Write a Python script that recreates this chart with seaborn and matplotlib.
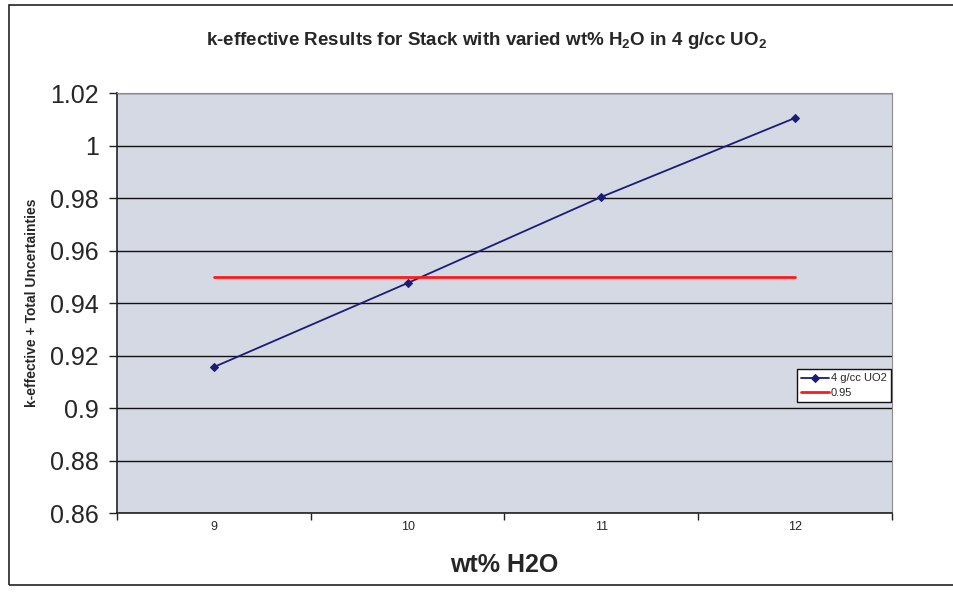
import matplotlib
matplotlib.use("Agg")
import matplotlib.pyplot as plt
import seaborn as sns
import pandas as pd
from matplotlib.patches import Rectangle
from matplotlib.ticker import FixedLocator

# Data
wt_pct = ["9", "10", "11", "12"]
k_eff = [0.9156, 0.9476, 0.9804, 1.0105]
limit = [0.95, 0.95, 0.95, 0.95]
y_ticks = [0.86, 0.88, 0.90, 0.92, 0.94, 0.96, 0.98, 1.00, 1.02]
y_tick_labels = ["0.86", "0.88", "0.9", "0.92", "0.94", "0.96", "0.98", "1", "1.02"]

df = pd.DataFrame({"wt": wt_pct, "k": k_eff, "lim": limit})
df["pos"] = range(len(df))

sns.set_theme(style="white")
plt.rcParams["font.family"] = ["Liberation Sans", "DejaVu Sans"]
plt.rcParams["mathtext.default"] = "regular"

fig = plt.figure(figsize=(9.54, 5.92), dpi=100)
ax = fig.add_axes([0.1226, 0.1334, 0.8124, 0.7095])
ax.set_facecolor("#d5d9e3")

# Outer chart frame
fig.patches.append(Rectangle((0.009, 0.011), 1.2, 0.98, transform=fig.transFigure,
                             fill=False, edgecolor="#222222", linewidth=1.2, zorder=0))

sns.lineplot(data=df, x="pos", y="k", ax=ax, color="#1c1c78", linewidth=1.3,
             marker="D", markersize=4, markeredgecolor="#1c1c78",
             label="4 g/cc UO2")
sns.lineplot(data=df, x="pos", y="lim", ax=ax, color="#ff1a1a", linewidth=2.0,
             label="0.95")

ax.set_xlim(-0.5, len(wt_pct) - 0.5)
ax.set_ylim(0.86, 1.02)
ax.set_yticks(y_ticks)
ax.set_yticklabels(y_tick_labels, fontsize=18)
ax.yaxis.grid(True, color="#111111", linewidth=1.0)
ax.set_axisbelow(True)

# Category labels at centers, tick marks at category boundaries
ax.set_xticks(df["pos"])
ax.set_xticklabels(wt_pct, fontsize=9)
ax.xaxis.set_minor_locator(FixedLocator([i - 0.5 for i in range(len(wt_pct) + 1)]))
ax.tick_params(axis="x", which="major", length=0, pad=6)
ax.tick_params(axis="x", which="minor", length=5, width=1, color="#222222", bottom=True)
ax.tick_params(axis="y", length=6, width=1, color="#222222", left=True, pad=7)

for side in ["left", "bottom"]:
    ax.spines[side].set_color("#222222")
    ax.spines[side].set_linewidth(1.2)
for side in ["top", "right"]:
    ax.spines[side].set_color("#8a8a8a")
    ax.spines[side].set_linewidth(0.8)

ax.set_xlabel("wt% H2O", fontsize=18, fontweight="bold", labelpad=14)
ax.set_ylabel("k-effective + Total Uncertainties", fontsize=10, fontweight="bold", labelpad=8)
fig.text(0.51, 0.932, r"k-effective Results for Stack with varied wt% H$_2$O in 4 g/cc UO$_2$",
         ha="center", va="center", fontsize=13.5, fontweight="bold")

leg = ax.legend(loc="upper left", bbox_to_anchor=(0.877, 0.343), fontsize=8,
                frameon=True, fancybox=False, edgecolor="#111111", framealpha=1,
                borderpad=0.4, handlelength=2.5, labelspacing=0.4, handletextpad=0.2,
                borderaxespad=0)
leg.get_frame().set_linewidth(1.0)

fig.savefig("out.png", dpi=100, facecolor="white")
